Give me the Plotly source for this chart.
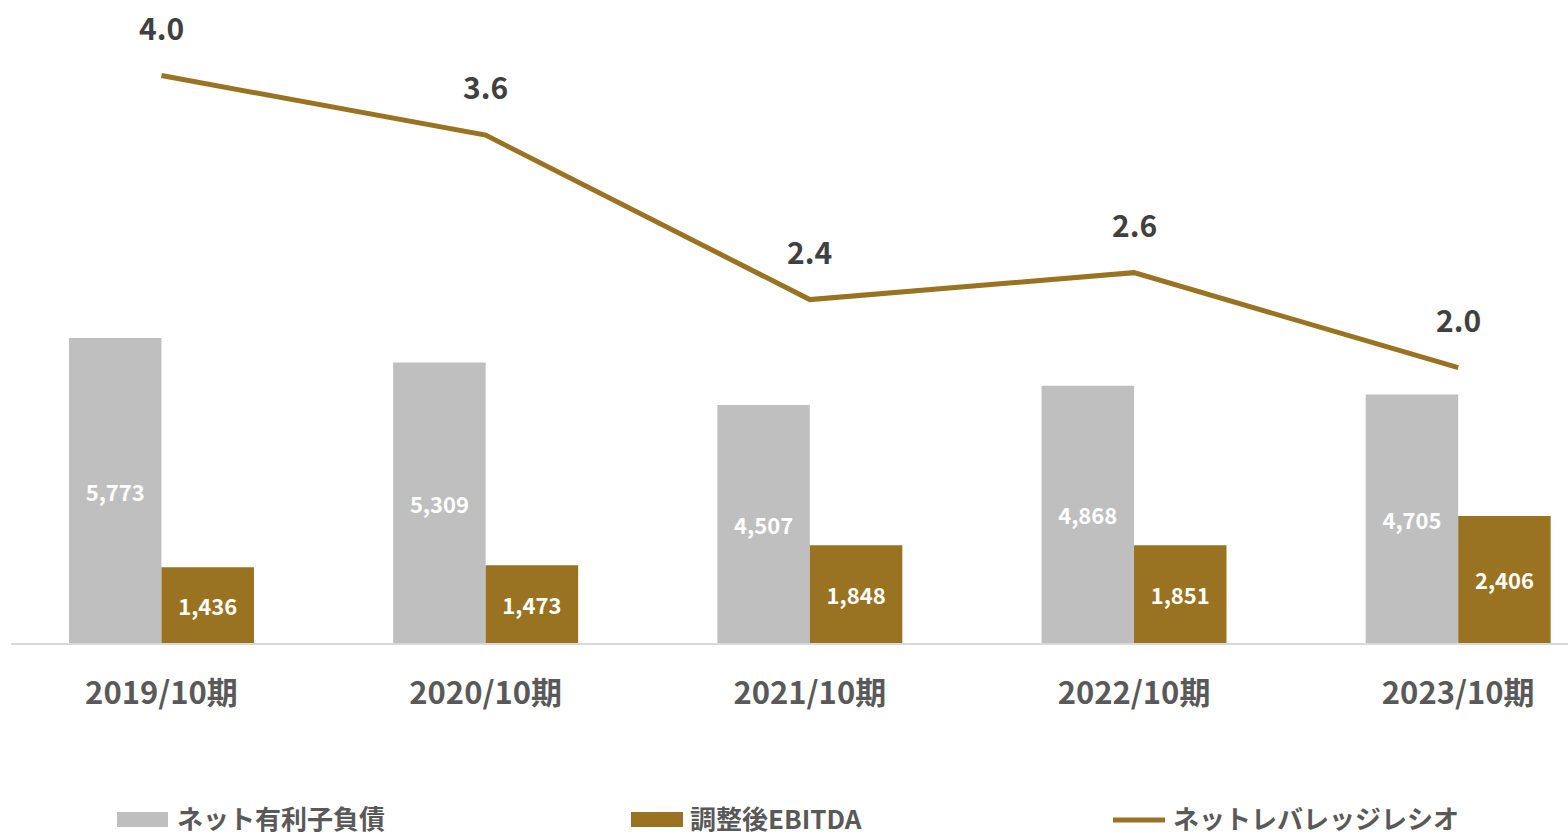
import plotly.graph_objects as go

# Fiscal periods and values (百万円 / 倍)
periods = ["2019/10期", "2020/10期", "2021/10期", "2022/10期", "2023/10期"]
net_debt = [5773, 5309, 4507, 4868, 4705]
adj_ebitda = [1436, 1473, 1848, 1851, 2406]
leverage = [4.02, 3.60, 2.44, 2.63, 1.96]

FONT = "Noto Sans CJK JP"
GRAY = "#BFBFBF"
GOLD = "#997321"
W, H = 1568, 838
ML, MB = 11, 195

fig = go.Figure()

fig.add_trace(go.Bar(
    x=periods, y=net_debt, name="ネット有利子負債",
    marker=dict(color=GRAY, line=dict(width=0)),
    text=[f"{v:,}" for v in net_debt], textposition="inside",
    insidetextanchor="middle", textangle=0,
    textfont=dict(family=FONT, size=22, color="white", weight="bold"),
))
fig.add_trace(go.Bar(
    x=periods, y=adj_ebitda, name="調整後EBITDA",
    marker=dict(color=GOLD, line=dict(width=0)),
    text=[f"{v:,}" for v in adj_ebitda], textposition="inside",
    insidetextanchor="middle", textangle=0,
    textfont=dict(family=FONT, size=22, color="white", weight="bold"),
))
fig.add_trace(go.Scatter(
    x=periods, y=leverage, name="ネットレバレッジレシオ", yaxis="y2",
    mode="lines", line=dict(color=GOLD, width=5),
))

# ratio labels above each point
for p, v in zip(periods, leverage):
    fig.add_annotation(
        x=p, y=v, xref="x", yref="y2", text=f"{v:.1f}", showarrow=False,
        yshift=49, font=dict(family=FONT, size=30, color="#404040", weight="bold"),
    )

# legend drawn along the bottom edge
plot_w = W - ML
plot_h = H - MB


def px(xp):
    return (xp - ML) / plot_w


def py(yp):
    return (plot_h - yp) / plot_h


LEG_BOTTOM = 837   # bottom of the legend text boxes
LEG_Y = 819        # centre line of the legend symbols
legend_items = [
    ("rect", GRAY, 117, 168, "ネット有利子負債", 176),
    ("rect", GOLD, 631, 683, "調整後EBITDA", 689),
    ("line", GOLD, 1113, 1165, "ネットレバレッジレシオ", 1172),
]
for kind, color, x0, x1, label, tx in legend_items:
    if kind == "rect":
        fig.add_shape(type="rect", xref="paper", yref="paper",
                      x0=px(x0), x1=px(x1), y0=py(LEG_Y - 7), y1=py(LEG_Y + 8),
                      fillcolor=color, line=dict(width=0))
    else:
        fig.add_shape(type="line", xref="paper", yref="paper",
                      x0=px(x0), x1=px(x1), y0=py(LEG_Y + 1), y1=py(LEG_Y + 1),
                      line=dict(color=color, width=5))
    fig.add_annotation(xref="paper", yref="paper", x=px(tx), y=py(LEG_BOTTOM),
                       xanchor="left", yanchor="bottom", text=label,
                       showarrow=False, borderpad=0,
                       font=dict(family=FONT, size=26, color="#595959", weight="bold"))

fig.update_layout(
    width=W, height=H,
    margin=dict(l=ML, r=0, t=0, b=MB),
    paper_bgcolor="white", plot_bgcolor="white",
    barmode="group", bargap=0.4294, bargroupgap=0,
    showlegend=False,
    xaxis=dict(
        type="category", range=[-0.4642, 4.3387],
        showline=True, linecolor="#D9D9D9", linewidth=2,
        showgrid=False, zeroline=False, ticks="",
        ticklabelstandoff=22,
        tickfont=dict(family=FONT, size=31, color="#595959", weight="bold"),
    ),
    yaxis=dict(range=[0, 12171], visible=False, showgrid=False, zeroline=False),
    yaxis2=dict(range=[0.018, 4.553], overlaying="y", visible=False,
                showgrid=False, zeroline=False),
)

fig.write_html("out.html")
